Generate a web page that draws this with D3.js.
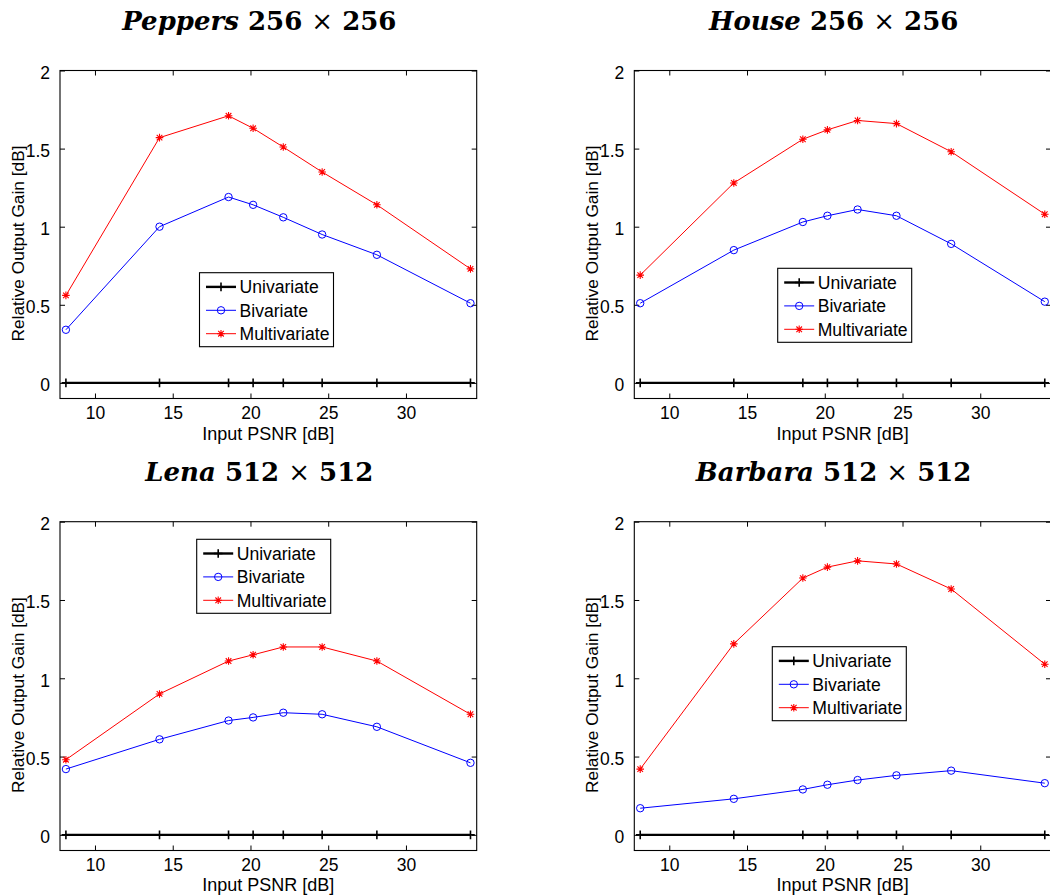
<!DOCTYPE html>
<html>
<head>
<meta charset="utf-8">
<script src="https://cdn.jsdelivr.net/npm/d3@7"></script>
<style>
  html, body { margin: 0; padding: 0; background: #fff; overflow: hidden; }
  svg { display: block; }
  text { font-family: "Liberation Sans", Arial, Helvetica, sans-serif; fill: #000; }
</style>
</head>
<body>
<svg id="chart" width="1050" height="896"></svg>
<script>
// Input PSNR for noise levels sigma = 100, 50, 30, 25, 20, 15, 10, 5
const inputPSNR = [8.13, 14.15, 18.59, 20.17, 22.11, 24.61, 28.13, 34.15];

const imageNames = ["Peppers", "House", "Lena", "Barbara"];
const imageSizes = ["256", "256", "512", "512"];
const seriesNames = ["Univariate", "Bivariate", "Multivariate"];

const xTicks = [10, 15, 20, 25, 30];
const yTicks = [0, 0.5, 1, 1.5, 2];
const yTickLabels = ["0", "0.5", "1", "1.5", "2"];

// Relative output gain [dB] of each method, per test image
const peppersUnivariate   = [0, 0, 0, 0, 0, 0, 0, 0];
const peppersBivariate    = [0.34, 1.00, 1.19, 1.14, 1.06, 0.95, 0.82, 0.51];
const peppersMultivariate = [0.56, 1.57, 1.71, 1.63, 1.51, 1.35, 1.14, 0.73];

const houseUnivariate   = [0, 0, 0, 0, 0, 0, 0, 0];
const houseBivariate    = [0.51, 0.85, 1.03, 1.07, 1.11, 1.07, 0.89, 0.52];
const houseMultivariate = [0.69, 1.28, 1.56, 1.62, 1.68, 1.66, 1.48, 1.08];

const lenaUnivariate   = [0, 0, 0, 0, 0, 0, 0, 0];
const lenaBivariate    = [0.42, 0.61, 0.73, 0.75, 0.78, 0.77, 0.69, 0.46];
const lenaMultivariate = [0.48, 0.90, 1.11, 1.15, 1.20, 1.20, 1.11, 0.77];

const barbaraUnivariate   = [0, 0, 0, 0, 0, 0, 0, 0];
const barbaraBivariate    = [0.17, 0.23, 0.29, 0.32, 0.35, 0.38, 0.41, 0.33];
const barbaraMultivariate = [0.42, 1.22, 1.64, 1.71, 1.75, 1.73, 1.57, 1.09];

const panelSeries = [
  [peppersUnivariate, peppersBivariate, peppersMultivariate],
  [houseUnivariate, houseBivariate, houseMultivariate],
  [lenaUnivariate, lenaBivariate, lenaMultivariate],
  [barbaraUnivariate, barbaraBivariate, barbaraMultivariate]
];

// ---- layout ----
const svg = d3.select("#chart");
const axW = 416.7;
const panelBoxes = [
  { x: 60,    y: 70.5,  h: 328,   legend: [139.5, 202.2] },
  { x: 634.3, y: 70.5,  h: 328,   legend: [143.4, 197.8] },
  { x: 60,    y: 521.7, h: 328.8, legend: [136.7, 17.6] },
  { x: 634.3, y: 521.7, h: 328.8, legend: [138.0, 125.0] }
];

const styles = [
  { color: "#000000", width: 2.4, marker: "plus" },
  { color: "#0000ff", width: 1,   marker: "circle" },
  { color: "#ff0000", width: 1,   marker: "star" }
];

function drawMarker(g, kind, cx, cy, color) {
  if (kind === "plus") {
    const s = 4.3;
    g.append("path")
      .attr("d", `M${cx - s},${cy}H${cx + s}M${cx},${cy - s}V${cy + s}`)
      .attr("stroke", color).attr("stroke-width", 1.6).attr("fill", "none");
  } else if (kind === "circle") {
    g.append("circle").attr("cx", cx).attr("cy", cy).attr("r", 3.7)
      .attr("fill", "none").attr("stroke", color).attr("stroke-width", 1);
  } else {
    const s = 3.8, d = 2.8;
    g.append("path")
      .attr("d", `M${cx - s},${cy}H${cx + s}M${cx},${cy - s}V${cy + s}` +
                 `M${cx - d},${cy - d}L${cx + d},${cy + d}M${cx - d},${cy + d}L${cx + d},${cy - d}`)
      .attr("stroke", color).attr("stroke-width", 1.1).attr("fill", "none");
  }
}

panelBoxes.forEach((box, i) => {
  const g = svg.append("g").attr("transform", `translate(${box.x},${box.y})`);
  const x = d3.scaleLinear().domain([7.75, 34.55]).range([0, axW]);
  const y = d3.scaleLinear().domain([-0.1, 2]).range([box.h, 0]);
  const tickLen = 5;

  // inward ticks on all four sides
  const bottomAxis = d3.axisBottom(x).tickValues(xTicks).tickSizeInner(-tickLen).tickSizeOuter(0).tickPadding(8);
  const topAxis = d3.axisTop(x).tickValues(xTicks).tickSizeInner(-tickLen).tickSizeOuter(0).tickFormat("");
  const leftAxis = d3.axisLeft(y).tickValues(yTicks).tickSizeInner(-tickLen).tickSizeOuter(0).tickPadding(10)
    .tickFormat((d, k) => yTickLabels[k]);
  const rightAxis = d3.axisRight(y).tickValues(yTicks).tickSizeInner(-tickLen).tickSizeOuter(0).tickFormat("");

  const gb = g.append("g").attr("transform", `translate(0,${box.h})`).call(bottomAxis);
  g.append("g").call(topAxis);
  const gl = g.append("g").call(leftAxis);
  g.append("g").attr("transform", `translate(${axW},0)`).call(rightAxis);
  g.selectAll(".domain").remove();
  g.selectAll(".tick line").attr("stroke", "#000").attr("stroke-width", 1);
  g.selectAll(".tick text").style("font-family", "'Liberation Sans', Arial, sans-serif")
    .attr("font-size", 17.5).attr("fill", "#000");
  gl.selectAll(".tick text").attr("dy", "0.45em");
  gb.selectAll(".tick text").attr("dy", "0.72em");

  // data series
  panelSeries[i].forEach((vals, s) => {
    const st = styles[s];
    const pts = inputPSNR.map((px, k) => [x(px), y(vals[k])]);
    g.append("path")
      .attr("d", d3.line()(pts))
      .attr("fill", "none").attr("stroke", st.color).attr("stroke-width", st.width);
    const mg = g.append("g");
    pts.forEach(p => drawMarker(mg, st.marker, p[0], p[1], st.color));
  });

  // axes box
  g.append("rect").attr("x", 0).attr("y", 0).attr("width", axW).attr("height", box.h)
    .attr("fill", "none").attr("stroke", "#000").attr("stroke-width", 1.1);

  // axis labels
  g.append("text").attr("x", axW / 2).attr("y", box.h + 41)
    .attr("text-anchor", "middle").attr("font-size", 18).text("Input PSNR [dB]");
  g.append("text")
    .attr("transform", `translate(-36,${box.h / 2 + 9}) rotate(-90)`)
    .attr("text-anchor", "middle").attr("font-size", 17.3).text("Relative Output Gain [dB]");

  // title
  const t = g.append("text")
    .attr("x", axW / 2 - 9).attr("y", -41)
    .attr("text-anchor", "middle").attr("font-size", 26)
    .style("font-family", "'DejaVu Serif', 'Liberation Serif', serif");
  t.append("tspan").attr("font-weight", "bold").attr("font-style", "italic").text(imageNames[i]);
  t.append("tspan").attr("font-weight", "bold").text(" " + imageSizes[i] + " ");
  t.append("tspan").attr("font-weight", "normal").text("×");
  t.append("tspan").attr("font-weight", "bold").text(" " + imageSizes[i]);

  // legend
  const lg = g.append("g").attr("transform", `translate(${box.legend[0]},${box.legend[1]})`);
  lg.append("rect").attr("width", 134).attr("height", 74)
    .attr("fill", "#fff").attr("stroke", "#000").attr("stroke-width", 1.1);
  seriesNames.forEach((name, s) => {
    const cy = 14.2 + s * 23.4;
    const st = styles[s];
    lg.append("line").attr("x1", 6.5).attr("x2", 36.5).attr("y1", cy).attr("y2", cy)
      .attr("stroke", st.color).attr("stroke-width", st.width);
    drawMarker(lg, st.marker, 21.5, cy, st.color);
    lg.append("text").attr("x", 40).attr("y", cy).attr("dy", "0.36em")
      .attr("font-size", 17.6).text(name);
  });
});
</script>
</body>
</html>
